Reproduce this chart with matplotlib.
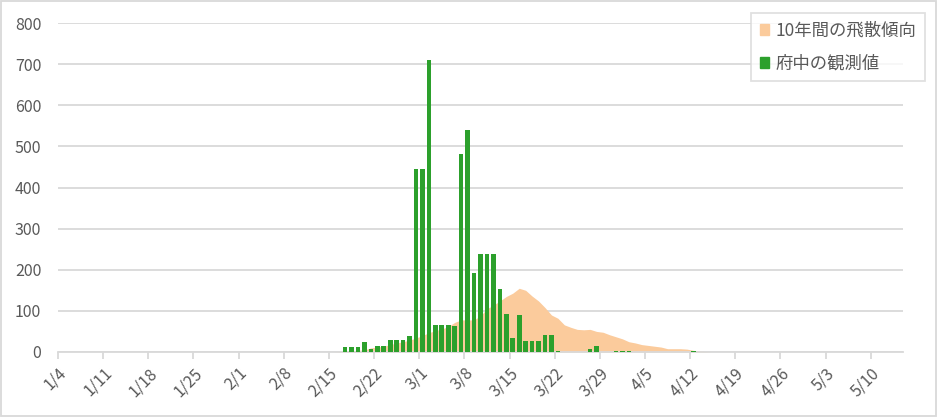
import numpy as np
import matplotlib
matplotlib.use('Agg')
import matplotlib.pyplot as plt
import matplotlib.patches as mpatches
from datetime import date, timedelta

plt.rcParams['font.family'] = ['Noto Sans CJK JP', 'DejaVu Sans']

start = date(2021, 1, 4)
n_days = 131  # 1/4 .. 5/14

# 府中の観測値 (daily observed), keyed by date
obs_dates = ['2/17', '2/18', '2/19', '2/20', '2/21', '2/22', '2/23', '2/24', '2/25', '2/26',
             '2/27', '2/28', '3/1', '3/2', '3/3', '3/4', '3/5', '3/6', '3/7', '3/8',
             '3/9', '3/10', '3/11', '3/12', '3/13', '3/14', '3/15', '3/16', '3/17', '3/18',
             '3/19', '3/20', '3/21', '3/22', '3/27', '3/28', '3/31', '4/1', '4/2', '4/12']
obs_values = [12, 12, 12, 24, 8, 15, 15, 29, 29, 29,
              39, 445, 445, 710, 66, 66, 66, 64, 482, 540,
              192, 238, 238, 238, 152, 93, 34, 91, 27, 27,
              27, 42, 42, 3, 7, 15, 3, 3, 3, 3]

# 10年間の飛散傾向 (10-year trend), from 2/16 to 4/15
trend_start = '2/16'
trend_values = [1, 2, 3, 4, 5, 10, 12, 14, 18, 22, 25, 29, 34,
                40, 47, 52, 56, 62, 72, 78, 78, 78, 88, 105, 114, 124, 135, 143,
                155, 150, 136, 124, 108, 90, 82, 66, 60, 55, 54, 55, 50, 48,
                42, 37, 32, 25, 22, 18, 16, 14, 12, 8, 8, 8, 7, 4, 2.5, 1, 0]

tick_labels = ['1/4', '1/11', '1/18', '1/25', '2/1', '2/8', '2/15', '2/22', '3/1',
               '3/8', '3/15', '3/22', '3/29', '4/5', '4/12', '4/19', '4/26', '5/3', '5/10']


def day_index(md):
    m, d = md.split('/')
    return (date(2021, int(m), int(d)) - start).days


obs = np.zeros(n_days)
for md, v in zip(obs_dates, obs_values):
    obs[day_index(md)] = v

trend = np.zeros(n_days)
t0 = day_index(trend_start)
trend[t0:t0 + len(trend_values)] = trend_values

x = np.arange(n_days) + 0.5

fig = plt.figure(figsize=(9.38, 4.17), dpi=100)
ax = fig.add_axes([58 / 938, 1 - 352 / 417, (903 - 58) / 938, (352 - 23) / 417])

ax.fill_between(x, 0, trend, color='#FBCB9C', linewidth=0, zorder=2)
ax.bar(x, obs, width=0.72, color='#2CA02C', zorder=3)

ax.set_xlim(0, n_days)
ax.set_ylim(0, 800)
ax.set_yticks(np.arange(0, 801, 100))
ax.yaxis.grid(True, color='#D9D9D9', linewidth=1.3, zorder=0)
ax.set_axisbelow(True)

ax.set_xticks([day_index(t) for t in tick_labels])
ax.set_xticklabels(tick_labels, rotation=45, ha='right', rotation_mode='anchor')

for s in ['top', 'right', 'left']:
    ax.spines[s].set_visible(False)
ax.spines['bottom'].set_color('#D9D9D9')
ax.spines['bottom'].set_linewidth(1.3)
ax.tick_params(axis='x', colors='#D9D9D9', length=5, width=1.3, labelcolor='#595959',
               labelsize=11.5, pad=4)
ax.tick_params(axis='y', length=0, labelcolor='#595959', labelsize=11.5, pad=12)

handles = [mpatches.Patch(color='#FBCB9C', label='10年間の飛散傾向'),
           mpatches.Patch(color='#2CA02C', label='府中の観測値')]
leg = fig.legend(handles=handles, loc='upper right', bbox_to_anchor=(925 / 938, 1 - 13 / 417),
                 bbox_transform=fig.transFigure, frameon=True, fancybox=False,
                 handlelength=0.55, handleheight=0.55, handletextpad=0.35,
                 labelspacing=0.85, borderpad=0.5, borderaxespad=0, fontsize=12.5)
leg.get_frame().set_edgecolor('#D9D9D9')
leg.get_frame().set_linewidth(1.3)
for t in leg.get_texts():
    t.set_color('#595959')

fig.patches.append(mpatches.Rectangle((0.001, 0.002), 0.997, 0.995, transform=fig.transFigure,
                                      fill=False, edgecolor='#D9D9D9', linewidth=1.3))

fig.savefig('out.png', dpi=100)
